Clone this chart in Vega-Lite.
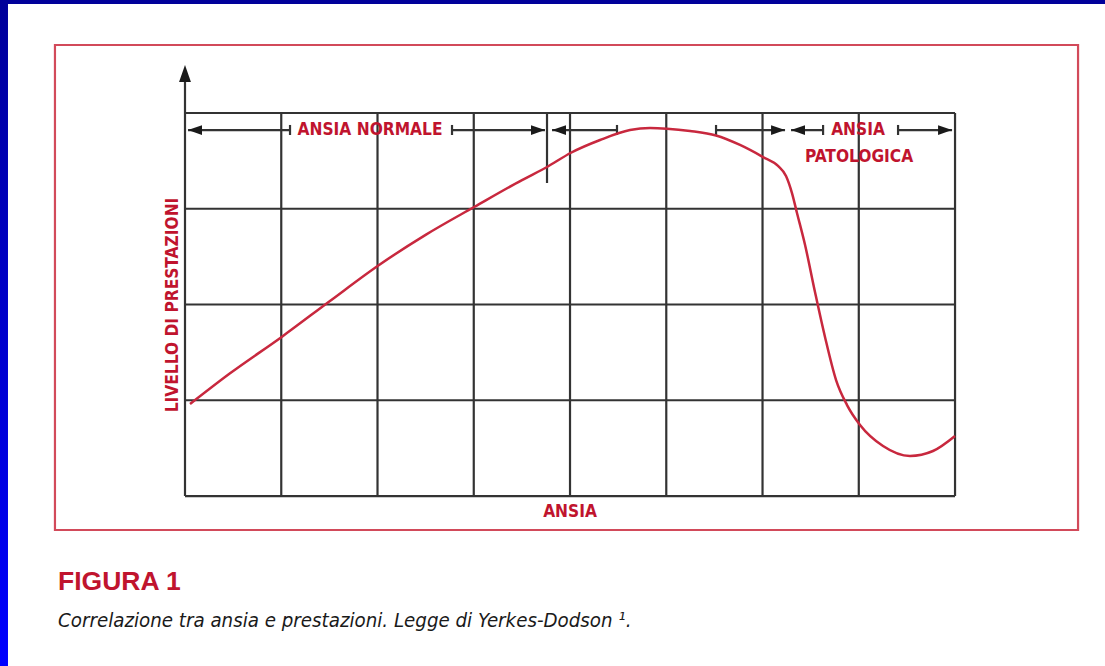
{
  "$schema": "https://vega.github.io/schema/vega-lite/v6.json",
  "width": 1105,
  "height": 666,
  "padding": 0,
  "autosize": {"type": "none"},
  "background": "white",
  "config": {"view": {"stroke": null}},
  "datasets": {
    "leftbar": [{"x": -1.922, "x2": -1.839, "y": -1.775, "y2": 5.18}],
    "topbar": [{"x": -1.922, "x2": 9.558, "y": 5.138, "y2": 5.18}],
    "frame": [{"x": -1.351, "x2": 9.278, "y": -0.355, "y2": 4.71}],
    "rules": [
      {"x": 0, "x2": 0, "y": 0, "y2": 4.35},
      {"x": 1, "x2": 1, "y": 0, "y2": 4},
      {"x": 2, "x2": 2, "y": 0, "y2": 4},
      {"x": 3, "x2": 3, "y": 0, "y2": 4},
      {"x": 4, "x2": 4, "y": 0, "y2": 4},
      {"x": 5, "x2": 5, "y": 0, "y2": 4},
      {"x": 6, "x2": 6, "y": 0, "y2": 4},
      {"x": 7, "x2": 7, "y": 0, "y2": 4},
      {"x": 8, "x2": 8, "y": 0, "y2": 4},
      {"x": 0, "x2": 8, "y": 0, "y2": 0},
      {"x": 0, "x2": 8, "y": 1, "y2": 1},
      {"x": 0, "x2": 8, "y": 2, "y2": 2},
      {"x": 0, "x2": 8, "y": 3, "y2": 3},
      {"x": 0, "x2": 8, "y": 4, "y2": 4},
      {"x": 0.031, "x2": 1.091, "y": 3.822, "y2": 3.822},
      {"x": 2.774, "x2": 3.74, "y": 3.822, "y2": 3.822},
      {"x": 3.813, "x2": 4.488, "y": 3.822, "y2": 3.822},
      {"x": 5.517, "x2": 6.234, "y": 3.822, "y2": 3.822},
      {"x": 6.296, "x2": 6.629, "y": 3.822, "y2": 3.822},
      {"x": 7.408, "x2": 7.969, "y": 3.822, "y2": 3.822},
      {"x": 1.091, "x2": 1.091, "y": 3.77, "y2": 3.875},
      {"x": 2.774, "x2": 2.774, "y": 3.77, "y2": 3.875},
      {"x": 4.488, "x2": 4.488, "y": 3.77, "y2": 3.875},
      {"x": 5.517, "x2": 5.517, "y": 3.77, "y2": 3.875},
      {"x": 6.629, "x2": 6.629, "y": 3.77, "y2": 3.875},
      {"x": 7.408, "x2": 7.408, "y": 3.77, "y2": 3.875},
      {"x": 3.761, "x2": 3.761, "y": 3.269, "y2": 4}
    ],
    "heads": [
      {"x": 0.031, "y": 3.822, "dir": "left"},
      {"x": 3.813, "y": 3.822, "dir": "left"},
      {"x": 6.296, "y": 3.822, "dir": "left"},
      {"x": 3.74, "y": 3.822, "dir": "right"},
      {"x": 6.234, "y": 3.822, "dir": "right"},
      {"x": 7.969, "y": 3.822, "dir": "right"},
      {"x": 0, "y": 4.501, "dir": "up"}
    ],
    "curve": [
      {"ansia": 0.052, "prest": 0.961},
      {"ansia": 0.468, "prest": 1.282},
      {"ansia": 1.008, "prest": 1.664},
      {"ansia": 1.506, "prest": 2.037},
      {"ansia": 2.005, "prest": 2.405},
      {"ansia": 2.504, "prest": 2.73},
      {"ansia": 3.003, "prest": 3.018},
      {"ansia": 3.501, "prest": 3.3},
      {"ansia": 3.761, "prest": 3.436},
      {"ansia": 4.01, "prest": 3.585},
      {"ansia": 4.312, "prest": 3.718},
      {"ansia": 4.623, "prest": 3.822},
      {"ansia": 4.831, "prest": 3.843},
      {"ansia": 5.008, "prest": 3.836},
      {"ansia": 5.247, "prest": 3.812},
      {"ansia": 5.517, "prest": 3.765},
      {"ansia": 5.766, "prest": 3.666},
      {"ansia": 6.005, "prest": 3.54},
      {"ansia": 6.161, "prest": 3.447},
      {"ansia": 6.244, "prest": 3.342},
      {"ansia": 6.306, "prest": 3.164},
      {"ansia": 6.358, "prest": 2.956},
      {"ansia": 6.442, "prest": 2.621},
      {"ansia": 6.545, "prest": 2.131},
      {"ansia": 6.649, "prest": 1.661},
      {"ansia": 6.764, "prest": 1.211},
      {"ansia": 6.878, "prest": 0.95},
      {"ansia": 7.013, "prest": 0.742},
      {"ansia": 7.252, "prest": 0.522},
      {"ansia": 7.532, "prest": 0.418},
      {"ansia": 7.771, "prest": 0.47},
      {"ansia": 8.0, "prest": 0.627}
    ],
    "labels": [
      {"x": 1.922, "y": 3.822, "label": "ANSIA NORMALE"},
      {"x": 6.992, "y": 3.822, "label": "ANSIA"},
      {"x": 7.003, "y": 3.54, "label": "PATOLOGICA"},
      {"x": 4.0, "y": -0.167, "label": "ANSIA"}
    ],
    "ylabel": [{"x": -0.125, "y": 1.995, "label": "LIVELLO DI PRESTAZIONI"}],
    "fig": [{"x": -1.319, "y": -0.982, "label": "FIGURA 1"}],
    "caption": [{"x": -1.319, "y": -1.368, "label": "Correlazione tra ansia e prestazioni. Legge di Yerkes-Dodson ¹."}]
  },
  "layer": [
    {
      "data": {"name": "leftbar"},
      "mark": {"type": "rect", "fill": {"gradient": "linear", "x1": 0, "y1": 0, "x2": 0, "y2": 1, "stops": [{"offset": 0, "color": "#00009a"}, {"offset": 1, "color": "#0000ff"}]}},
      "encoding": {
        "x": {"field": "x", "type": "quantitative", "scale": {"domain": [-1.922, 9.558], "nice": false, "zero": false}, "axis": null},
        "x2": {"field": "x2"},
        "y": {"field": "y", "type": "quantitative", "scale": {"domain": [-1.775, 5.18], "nice": false, "zero": false}, "axis": null},
        "y2": {"field": "y2"}
      }
    },
    {
      "data": {"name": "topbar"},
      "mark": {"type": "rect", "fill": "#00009a"},
      "encoding": {
        "x": {"field": "x", "type": "quantitative", "axis": null},
        "x2": {"field": "x2"},
        "y": {"field": "y", "type": "quantitative", "axis": null},
        "y2": {"field": "y2"}
      }
    },
    {
      "data": {"name": "frame"},
      "mark": {"type": "rect", "fill": "transparent", "stroke": "#d24a5a", "strokeWidth": 2.2},
      "encoding": {
        "x": {"field": "x", "type": "quantitative", "axis": null},
        "x2": {"field": "x2"},
        "y": {"field": "y", "type": "quantitative", "axis": null},
        "y2": {"field": "y2"}
      }
    },
    {
      "data": {"name": "rules"},
      "mark": {"type": "rule", "color": "#333333", "strokeWidth": 2.2},
      "encoding": {
        "x": {"field": "x", "type": "quantitative", "axis": null},
        "x2": {"field": "x2"},
        "y": {"field": "y", "type": "quantitative", "axis": null},
        "y2": {"field": "y2"}
      }
    },
    {
      "data": {"name": "heads"},
      "mark": {"type": "point", "filled": true, "color": "#1a1a1a", "opacity": 1, "size": 196, "strokeWidth": 0},
      "encoding": {
        "x": {"field": "x", "type": "quantitative", "axis": null},
        "y": {"field": "y", "type": "quantitative", "axis": null},
        "shape": {"field": "dir", "type": "nominal", "legend": null, "scale": {"domain": ["left", "right", "up"], "range": ["M 0 0 L 2 -0.7 L 2 0.7 Z", "M 0 0 L -2 -0.7 L -2 0.7 Z", "M 0 0 L -0.85 2.43 L 0.85 2.43 Z"]}}
      }
    },
    {
      "data": {"name": "curve"},
      "mark": {"type": "line", "color": "#c8283e", "strokeWidth": 2.5, "interpolate": "monotone"},
      "encoding": {
        "x": {"field": "ansia", "type": "quantitative", "axis": null},
        "y": {"field": "prest", "type": "quantitative", "axis": null}
      }
    },
    {
      "data": {"name": "labels"},
      "mark": {"type": "text", "font": "DejaVu Sans Condensed, sans-serif", "fontWeight": "bold", "fontSize": 17.2, "color": "#c0142e", "align": "center", "baseline": "middle"},
      "encoding": {
        "x": {"field": "x", "type": "quantitative", "axis": null},
        "y": {"field": "y", "type": "quantitative", "axis": null},
        "text": {"field": "label"}
      }
    },
    {
      "data": {"name": "ylabel"},
      "mark": {"type": "text", "font": "DejaVu Sans Condensed, sans-serif", "fontWeight": "bold", "fontSize": 17.2, "color": "#c0142e", "align": "center", "baseline": "middle", "angle": 270},
      "encoding": {
        "x": {"field": "x", "type": "quantitative", "axis": null},
        "y": {"field": "y", "type": "quantitative", "axis": null},
        "text": {"field": "label"}
      }
    },
    {
      "data": {"name": "fig"},
      "mark": {"type": "text", "font": "Liberation Sans, Arial, sans-serif", "fontWeight": "bold", "fontSize": 26.5, "color": "#c0142e", "align": "left", "baseline": "alphabetic"},
      "encoding": {
        "x": {"field": "x", "type": "quantitative", "axis": null},
        "y": {"field": "y", "type": "quantitative", "axis": null},
        "text": {"field": "label"}
      }
    },
    {
      "data": {"name": "caption"},
      "mark": {"type": "text", "font": "DejaVu Sans Condensed, sans-serif", "fontStyle": "italic", "fontSize": 20.3, "color": "#1a1a1a", "align": "left", "baseline": "alphabetic"},
      "encoding": {
        "x": {"field": "x", "type": "quantitative", "axis": null},
        "y": {"field": "y", "type": "quantitative", "axis": null},
        "text": {"field": "label"}
      }
    }
  ]
}
